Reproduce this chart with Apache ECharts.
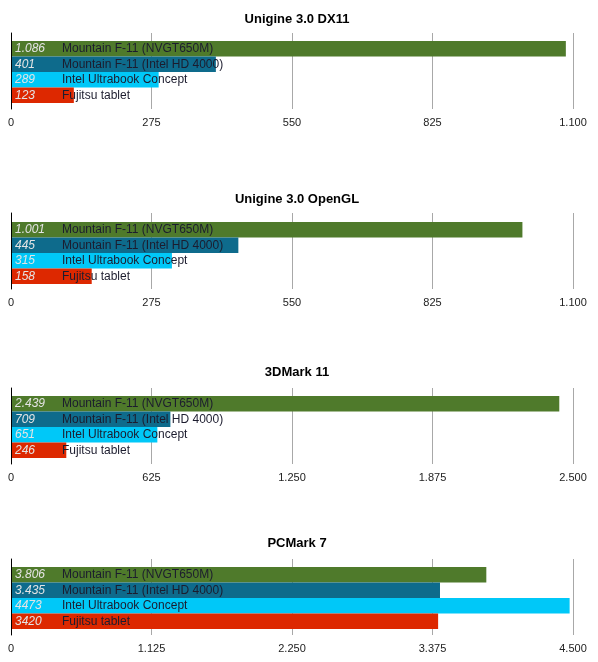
<!DOCTYPE html>
<html>
<head>
<meta charset="utf-8">
<script src="https://cdn.jsdelivr.net/npm/echarts@6/dist/echarts.min.js"></script>
<style>
  html, body { margin: 0; padding: 0; background: #fff; }
  #chart { width: 598px; height: 662px; }
</style>
</head>
<body>
<div id="chart"></div>
<script>
// 数据
var systems = ['Mountain F-11 (NVGT650M)', 'Mountain F-11 (Intel HD 4000)', 'Intel Ultrabook Concept', 'Fujitsu tablet'];
var colors = ['#4f7a2b', '#0e6b8c', '#00c8f8', '#dd2800'];

var titles = ['Unigine 3.0 DX11', 'Unigine 3.0 OpenGL', '3DMark 11', 'PCMark 7'];

var dx11 = [1086, 401, 289, 123];
var opengl = [1001, 445, 315, 158];
var mark11 = [2439, 709, 651, 246];
var pcmark = [3806, 3435, 4473, 3420];

// 柱上显示的数值文字（原图写法不统一）
var dx11Text = ['1.086', '401', '289', '123'];
var openglText = ['1.001', '445', '315', '158'];
var mark11Text = ['2.439', '709', '651', '246'];
var pcmarkText = ['3.806', '3.435', '4473', '3420'];

var axisMax = [1100, 1100, 2500, 4500];
var axisStep = [275, 275, 625, 1125];

var panelTop = [33, 213, 388, 559];   // 网格线区域
var barTop = [41, 222, 396, 567];     // 柱子区域
var titleY = [8, 188, 361, 532];

var values = [dx11, opengl, mark11, pcmark];
var texts = [dx11Text, openglText, mark11Text, pcmarkText];

var font = '"Liberation Sans", Arial, Helvetica, sans-serif';

function dots(v) {
  return String(v).replace(/\B(?=(\d{3})+(?!\d))/g, '.');
}

var option = {
  backgroundColor: '#fff',
  animation: false,
  textStyle: { fontFamily: font },
  title: [],
  grid: [],
  xAxis: [],
  yAxis: [],
  series: []
};

values.forEach(function(vals, p) {
  option.title.push({
    text: titles[p],
    left: 292,
    top: titleY[p],
    textAlign: 'center',
    textStyle: { fontSize: 13, fontWeight: 'bold', color: '#000', fontFamily: font }
  });

  // 背景网格 + 刻度
  option.grid.push({ left: 11, right: 25, top: panelTop[p], height: 76 });
  // 柱子
  option.grid.push({ left: 11, right: 25, top: barTop[p], height: 62 });

  var ga = p * 2, gb = p * 2 + 1;

  option.xAxis.push({
    gridIndex: ga,
    type: 'value',
    min: 0,
    max: axisMax[p],
    interval: axisStep[p],
    axisLine: { show: false },
    axisTick: { show: false },
    splitLine: { show: true, lineStyle: { color: '#a8a8a8', width: 1 } },
    axisLabel: {
      margin: 8,
      fontSize: 11,
      color: '#222',
      fontFamily: font,
      formatter: function(v) { return dots(v); }
    }
  });
  option.xAxis.push({
    gridIndex: gb,
    type: 'value',
    min: 0,
    max: axisMax[p],
    show: false
  });

  option.yAxis.push({
    gridIndex: ga,
    type: 'category',
    data: [''],
    axisLine: { show: true, lineStyle: { color: '#000', width: 1 } },
    axisTick: { show: false },
    axisLabel: { show: false },
    z: 5
  });
  option.yAxis.push({
    gridIndex: gb,
    type: 'category',
    inverse: true,
    data: systems,
    show: false
  });

  option.series.push({
    type: 'bar',
    xAxisIndex: gb,
    yAxisIndex: gb,
    barWidth: '100%',
    data: vals.map(function(v, i) {
      return { value: v, itemStyle: { color: colors[i] } };
    }),
    label: {
      show: true,
      position: 'insideLeft',
      distance: 4,
      formatter: function(params) {
        return '{v|' + texts[p][params.dataIndex] + '}{n|' + systems[params.dataIndex] + '}';
      },
      rich: {
        v: { width: 47, fontSize: 12, fontStyle: 'italic', color: '#e4e4e4', fontFamily: font },
        n: { fontSize: 12, color: '#1c1c2e', fontFamily: font }
      }
    }
  });
});

var myChart = echarts.init(document.getElementById('chart'));
myChart.setOption(option);
</script>
</body>
</html>
